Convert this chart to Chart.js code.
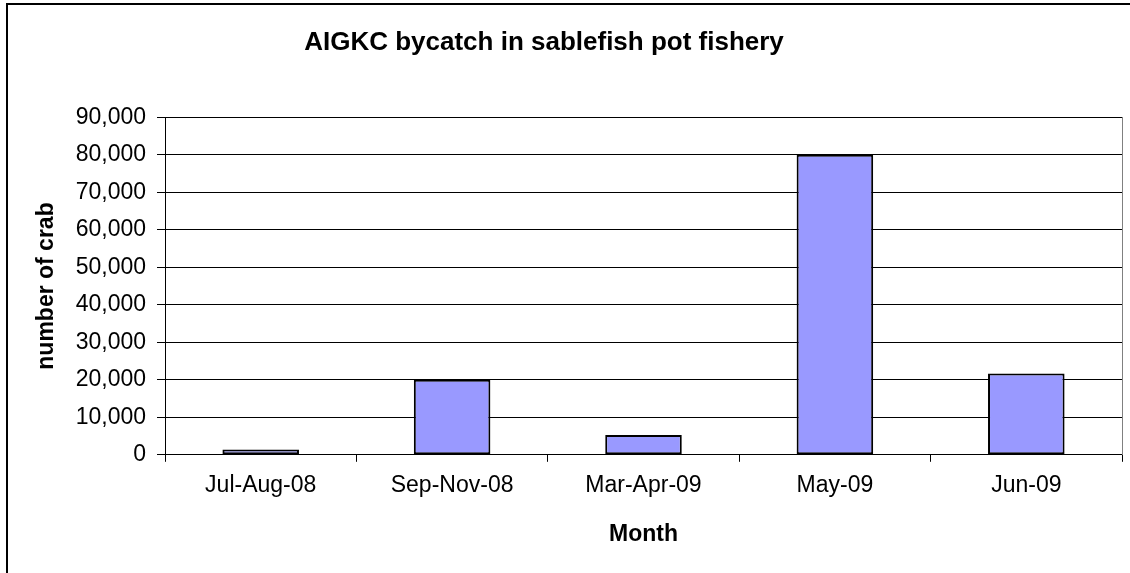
<!DOCTYPE html>
<html>
<head>
<meta charset="utf-8">
<script src="https://cdn.jsdelivr.net/npm/chart.js@4"></script>
<style>
  html, body { margin: 0; padding: 0; background: #fff; overflow: hidden; }
  #frame { position: absolute; left: 6px; top: 3px; width: 1200px; height: 700px; border-left: 2px solid #000; border-top: 2px solid #000; }
  #wrap { position: absolute; left: 0; top: 0; width: 1130px; height: 573px; }
</style>
</head>
<body>
<div id="frame"></div>
<div id="wrap"><canvas id="bar-chart" width="1130" height="573"></canvas></div>
<script>
const meses = ['Jul-Aug-08', 'Sep-Nov-08', 'Mar-Apr-09', 'May-09', 'Jun-09']
const caranguejos = [1400, 20000, 5300, 80000, 21700]
const yMax = 90000
const yStep = 10000

const fonte = 'Arial, "Liberation Sans", sans-serif'
const comVirgula = v => v.toLocaleString('en-US')

// padding esquerdo negativo para o titulo ficar centrado como no Excel
const padEsq = -34
const padDir = 8
const larguraEixoY = 165 - padEsq

//Bar chart
new Chart(document.getElementById('bar-chart'), {
    type: 'bar',
    data: {
        labels: meses,
        datasets: [
            {
                data: caranguejos,
                label: 'number of crab',
                backgroundColor: '#9999FF',
                borderColor: '#000000',
                borderWidth: 2,
                borderSkipped: false,
                barPercentage: 0.4,
                categoryPercentage: 1
            }
        ]
    },
    options: {
        responsive: false,
        animation: false,
        layout: { padding: { left: padEsq, right: padDir, top: 10, bottom: 10 } },
        plugins: {
            legend: { display: false },
            tooltip: { enabled: false },
            title: {
                display: true,
                text: 'AIGKC bycatch in sablefish pot fishery',
                color: '#000',
                font: { family: fonte, size: 26, weight: 'bold', lineHeight: 1.2 },
                padding: { top: 17, bottom: 59 }
            }
        },
        scales: {
            x: {
                grid: { display: true, drawOnChartArea: false, color: '#000', tickLength: 7, lineWidth: 1 },
                border: { display: true, color: '#000', width: 1 },
                ticks: { color: '#000', font: { family: fonte, size: 23, lineHeight: 1.2 }, padding: 10, maxRotation: 0 },
                title: {
                    display: true,
                    text: 'Month',
                    color: '#000',
                    font: { family: fonte, size: 23, weight: 'bold', lineHeight: 1.2 },
                    padding: { top: 11, bottom: 15 }
                }
            },
            y: {
                min: 0,
                max: yMax,
                afterFit: eixo => { eixo.width = larguraEixoY },
                grid: { color: '#000', tickLength: 8, lineWidth: 1 },
                border: { display: true, color: '#000', width: 1 },
                ticks: { stepSize: yStep, color: '#000', font: { family: fonte, size: 23, lineHeight: 1.2 }, padding: 11, callback: v => comVirgula(v) },
                title: {
                    display: true,
                    text: 'number of crab',
                    color: '#000',
                    font: { family: fonte, size: 23, weight: 'bold', lineHeight: 1.2 },
                    padding: { top: 67, bottom: 0 }
                }
            },
            y2: {
                position: 'right',
                min: 0,
                max: yMax,
                afterFit: eixo => { eixo.width = 0 },
                grid: { display: false },
                ticks: { display: false },
                border: { display: true, color: '#808080', width: 1 }
            }
        }
    }
});
</script>
</body>
</html>
